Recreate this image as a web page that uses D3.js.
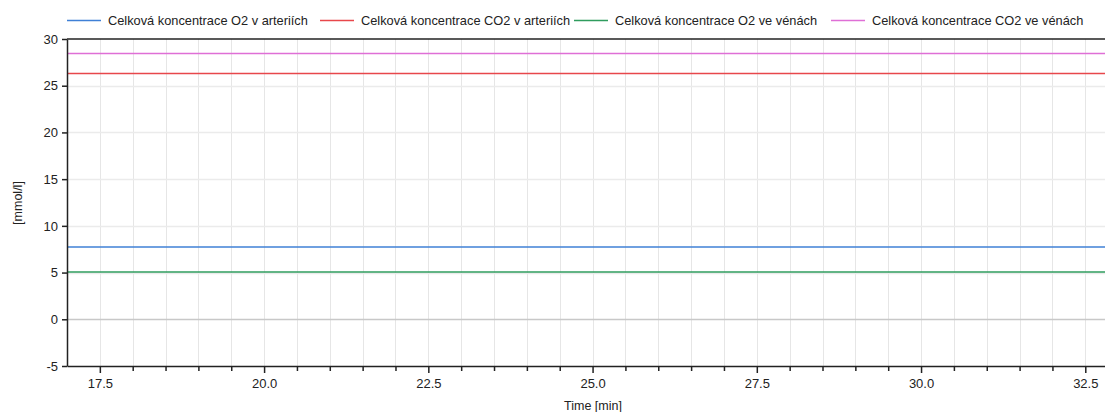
<!DOCTYPE html>
<html>
<head>
<meta charset="utf-8">
<script src="https://cdn.jsdelivr.net/npm/d3@7"></script>
<style>
    body { margin: 0; background: #fff; }
    text { font-family: "Liberation Sans", Arial, sans-serif; }
</style>
</head>
<body>
<svg id="drawing_region"></svg>
<script>
// series: constant concentrations over the time window
const series_names = ["Celková koncentrace O2 v arteriích", "Celková koncentrace CO2 v arteriích",
                      "Celková koncentrace O2 ve vénách", "Celková koncentrace CO2 ve vénách"];
const series_colors = ["#3f80d6", "#e8474b", "#2f9c5e", "#df6fd6"];
const times = [17.0, 32.8];
const o2_art = [7.73, 7.73];
const co2_art = [26.3, 26.3];
const o2_ven = [5.05, 5.05];
const co2_ven = [28.45, 28.45];
const x_ticks = [17.5, 20.0, 22.5, 25.0, 27.5, 30.0, 32.5];
const y_ticks = [-5, 0, 5, 10, 15, 20, 25, 30];

const series_values = [o2_art, co2_art, o2_ven, co2_ven];

const config = {
    width: 1105,
    height: 412,
    margin: {top:39, right:0, bottom:46, left:67}
};

const svg = d3.select('#drawing_region')
    .attr('width', config.width)
    .attr('height', config.height);

const inner_width = config.width - config.margin.left - config.margin.right;
const inner_height = config.height - config.margin.top - config.margin.bottom;

const chart = svg.append('g')
    .attr('transform', `translate(${config.margin.left}, ${config.margin.top})`);

const xscale = d3.scaleLinear()
    .domain([17.0, 32.8])
    .range([0, inner_width]);

const yscale = d3.scaleLinear()
    .domain([-5, 30])
    .range([inner_height, 0]);

// minor grid every 0.5 min
const x_minor = d3.range(17.0, 32.81, 0.5).filter(d => d > 17.01);

chart.append('g')
    .selectAll('line')
    .data(x_minor)
    .join('line')
    .attr('x1', d => Math.round(xscale(d)) + 0.5)
    .attr('x2', d => Math.round(xscale(d)) + 0.5)
    .attr('y1', 0)
    .attr('y2', inner_height)
    .attr('stroke', '#e6e6e6')
    .attr('stroke-width', 1);

chart.append('g')
    .selectAll('line')
    .data(y_ticks.filter(d => d !== -5 && d !== 30))
    .join('line')
    .attr('x1', 0)
    .attr('x2', inner_width)
    .attr('y1', d => Math.round(yscale(d)) + 0.5)
    .attr('y2', d => Math.round(yscale(d)) + 0.5)
    .attr('stroke', d => d === 0 ? '#c8c8c8' : '#ebebeb')
    .attr('stroke-width', 1.5);

// data lines
const line = d3.line()
    .x((d, i) => xscale(times[i]))
    .y(d => yscale(d));

chart.append('g')
    .selectAll('path')
    .data(series_values)
    .join('path')
    .attr('d', d => line(d))
    .attr('fill', 'none')
    .attr('stroke', (d, i) => series_colors[i])
    .attr('stroke-width', 1.5);

// axes
const xaxis = d3.axisBottom(xscale)
    .tickValues(x_minor)
    .tickSize(4)
    .tickSizeOuter(0)
    .tickFormat(d => x_ticks.includes(+d.toFixed(1)) ? d.toFixed(1) : '');

const xaxis_group = chart.append('g')
    .attr('transform', `translate(0, ${inner_height})`)
    .call(xaxis);

xaxis_group.selectAll('.tick line')
    .attr('y2', d => x_ticks.includes(+d.toFixed(1)) ? 7 : 5);

const yaxis = d3.axisLeft(yscale)
    .tickValues(y_ticks)
    .tickSize(5)
    .tickSizeOuter(0)
    .tickFormat(d => String(d));

const yaxis_group = chart.append('g')
    .call(yaxis);

[xaxis_group, yaxis_group].forEach(g => {
    g.select('.domain').attr('stroke', '#222').attr('stroke-width', 1.5);
    g.selectAll('.tick line').attr('stroke', '#222').attr('stroke-width', 1.5);
    g.selectAll('.tick text')
        .attr('font-size', '13px')
        .attr('fill', '#222')
        .attr('font-family', '"Liberation Sans", Arial, sans-serif');
});
xaxis_group.selectAll('.tick text').attr('y', 13);
yaxis_group.selectAll('.tick text').attr('x', -9);

// top border
chart.append('line')
    .attr('x1', 0)
    .attr('x2', inner_width)
    .attr('y1', 0)
    .attr('y2', 0)
    .attr('stroke', '#222')
    .attr('stroke-width', 1.5);

// labels
svg.append('text')
    .attr('x', 593)
    .attr('y', 410)
    .attr('text-anchor', 'middle')
    .attr('font-size', '12.5px')
    .attr('fill', '#222')
    .text('Time [min]');

svg.append('text')
    .attr('transform', 'translate(22, 203) rotate(-90)')
    .attr('text-anchor', 'middle')
    .attr('font-size', '12.5px')
    .attr('fill', '#222')
    .text('[mmol/l]');

// legend
const legend_x = [67, 320, 574, 831];
const legend = svg.append('g')
    .selectAll('g')
    .data(series_names)
    .join('g')
    .attr('transform', (d, i) => `translate(${legend_x[i]}, 20.5)`);

legend.append('line')
    .attr('x1', 0)
    .attr('x2', 34)
    .attr('stroke', (d, i) => series_colors[i])
    .attr('stroke-width', 1.5);

legend.append('text')
    .attr('x', 41)
    .attr('dy', '0.35em')
    .attr('font-size', '12.8px')
    .attr('fill', '#222')
    .text(d => d);
</script>
</body>
</html>
